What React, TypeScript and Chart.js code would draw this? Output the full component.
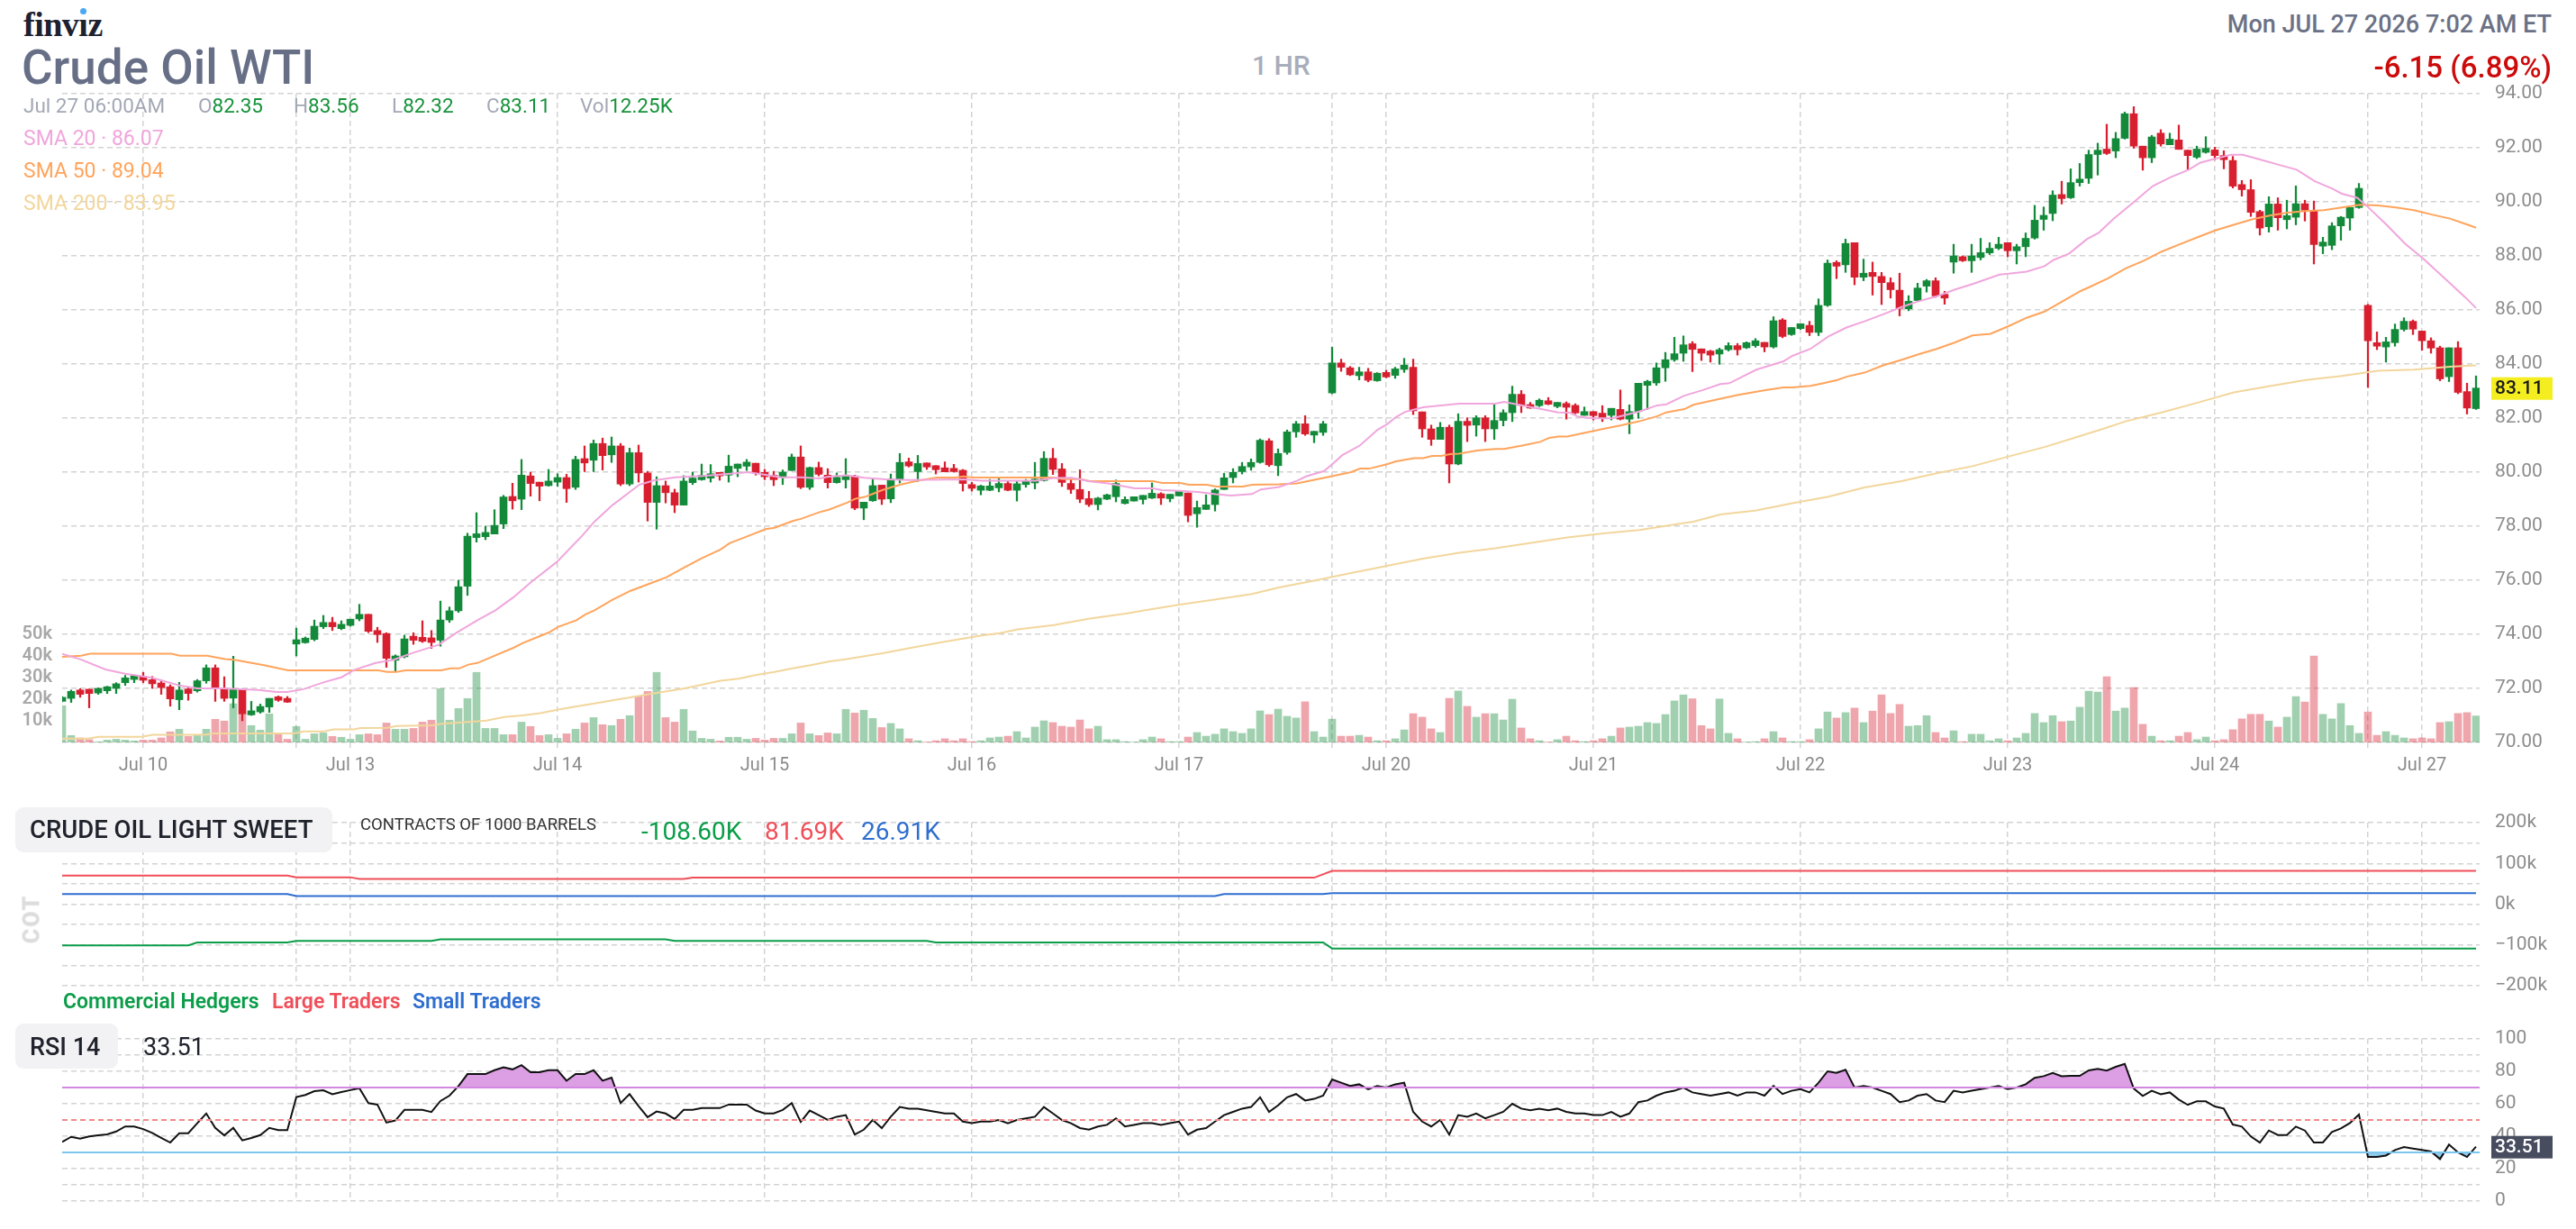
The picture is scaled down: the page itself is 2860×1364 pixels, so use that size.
import { useEffect, useRef } from "react";
import { Chart, registerables } from "chart.js";

Chart.register(...registerables);

const FONT = "Roboto, 'Noto Sans', sans-serif";

// ---- time axis: one slot per hourly bar ----
const X_MAX = 268.4;
const dayTicks = [9, 32, 55, 78, 101, 124, 147, 170, 193, 216, 239, 262];
const dayLabels = ["Jul 10", "Jul 13", "Jul 14", "Jul 15", "Jul 16", "Jul 17", "Jul 20", "Jul 21", "Jul 22", "Jul 23", "Jul 24", "Jul 27"];
const sessionTicks = [26, 141, 256];

// ---- hourly OHLC ----
const openP = [
  71.52, 71.63, 71.94, 71.97, 71.83, 71.91, 72.0, 72.21, 72.33, 72.44,
  72.32, 72.2, 72.06, 71.58, 71.98, 71.91, 72.28, 72.76, 72.0, 71.64,
  71.97, 71.02, 71.13, 71.31, 71.69, 71.63, 73.64, 73.69, 73.81, 74.28,
  74.44, 74.21, 74.33, 74.57, 74.74, 74.14, 74.03, 73.04, 73.17, 73.93,
  73.89, 73.87, 73.78, 74.53, 74.87, 75.78, 77.58, 77.61, 77.71, 78.08,
  79.1, 79.0, 79.86, 79.63, 79.5, 79.63, 79.8, 79.44, 80.5, 80.44,
  81.06, 80.64, 80.97, 79.56, 80.72, 79.97, 78.88, 79.5, 79.24, 78.78,
  79.61, 79.72, 79.78, 79.99, 79.89, 80.14, 80.22, 80.33, 79.99, 79.88,
  79.8, 80.06, 80.56, 79.44, 80.17, 79.89, 79.61, 79.72, 79.86, 78.67,
  78.94, 79.52, 79.01, 79.74, 80.38, 80.02, 80.34, 80.24, 80.16, 80.14,
  80.07, 79.54, 79.33, 79.33, 79.42, 79.58, 79.33, 79.54, 79.6, 79.69,
  80.51, 80.12, 79.58, 79.36, 79.02, 78.8, 79.0, 79.09, 78.84, 78.93,
  78.99, 79.04, 79.2, 79.02, 79.12, 79.23, 78.46, 78.62, 78.8, 79.36,
  79.8, 80.02, 80.19, 80.36, 81.16, 80.24, 80.73, 81.49, 81.79, 81.37,
  81.47, 82.93, 84.04, 83.86, 83.57, 83.71, 83.38, 83.69, 83.58, 83.8,
  83.88, 82.23, 81.6, 81.21, 81.66, 80.3, 81.88, 81.74, 82.01, 81.6,
  81.91, 82.2, 82.88, 82.5, 82.46, 82.64, 82.43, 82.54, 82.47, 82.1,
  82.24, 82.18, 82.1, 82.32, 81.96, 82.24, 83.21, 83.3, 83.86, 84.16,
  84.4, 84.75, 84.56, 84.48, 84.37, 84.53, 84.68, 84.6, 84.68, 84.8,
  84.63, 85.63, 85.09, 85.31, 85.43, 85.17, 86.17, 87.76, 87.67, 88.49,
  87.21, 87.39, 87.24, 87.01, 86.73, 86.04, 86.35, 86.88, 87.08, 86.58,
  87.77, 87.97, 87.82, 87.94, 88.11, 88.28, 88.49, 88.19, 88.34, 88.66,
  89.35, 89.57, 90.27, 90.15, 90.71, 90.87, 91.75, 91.95, 91.88, 92.35,
  93.26, 92.06, 91.63, 92.54, 92.11, 92.29, 91.91, 91.65, 91.83, 91.92,
  91.71, 91.53, 90.64, 90.45, 89.64, 89.08, 89.92, 89.34, 89.43, 89.93,
  89.69, 88.36, 88.39, 89.11, 89.4, 89.79, 86.17, 84.79, 84.63, 84.79,
  85.28, 85.58, 85.22, 84.86, 84.6, 83.53, 84.6, 82.98, 82.35,
];
const highP = [
  71.7, 71.94, 71.99, 71.97, 72.02, 72.08, 72.21, 72.48, 72.5, 72.59,
  72.44, 72.31, 72.13, 72.22, 72.06, 72.33, 72.87, 72.87, 72.43, 73.19,
  71.97, 71.52, 71.42, 71.63, 71.72, 71.7, 74.23, 73.9, 74.53, 74.7,
  74.63, 74.5, 74.56, 75.11, 74.74, 74.26, 74.06, 73.24, 73.97, 74.06,
  74.5, 74.14, 75.23, 75.01, 76.0, 77.74, 78.5, 78.0, 78.61, 79.14,
  79.59, 80.47, 80.0, 79.63, 80.1, 79.94, 79.92, 80.59, 80.97, 81.19,
  81.26, 81.3, 81.06, 80.89, 81.0, 80.03, 79.83, 79.67, 79.37, 79.87,
  80.0, 80.3, 80.28, 79.99, 80.63, 80.3, 80.47, 80.33, 80.1, 80.03,
  80.08, 80.67, 80.97, 80.19, 80.37, 80.13, 79.97, 80.5, 79.89, 78.89,
  79.78, 79.52, 79.93, 80.69, 80.52, 80.62, 80.34, 80.24, 80.38, 80.29,
  80.1, 79.62, 79.52, 79.73, 79.77, 79.69, 79.68, 79.73, 80.36, 80.76,
  80.88, 80.32, 79.79, 80.09, 79.29, 79.07, 79.19, 79.71, 79.09, 79.09,
  79.14, 79.6, 79.24, 79.18, 79.29, 79.23, 78.93, 79.16, 79.38, 79.96,
  80.13, 80.36, 80.49, 81.23, 81.24, 80.86, 81.56, 81.88, 82.09, 81.51,
  81.88, 84.62, 84.18, 83.91, 83.88, 83.84, 83.68, 83.77, 83.88, 84.21,
  84.18, 82.23, 81.74, 81.84, 81.74, 82.16, 82.01, 82.09, 82.09, 82.49,
  82.31, 83.18, 83.02, 82.58, 82.71, 82.76, 82.58, 82.6, 82.53, 82.41,
  82.24, 82.46, 82.36, 83.04, 82.49, 83.29, 83.4, 84.04, 84.43, 84.99,
  85.04, 84.83, 84.56, 84.51, 84.59, 84.79, 84.76, 84.82, 84.94, 84.8,
  85.75, 85.68, 85.35, 85.49, 85.58, 86.41, 87.85, 87.82, 88.62, 88.49,
  87.88, 87.77, 87.39, 87.19, 87.36, 86.53, 86.99, 87.13, 87.19, 86.69,
  88.43, 88.0, 88.43, 88.65, 88.49, 88.69, 88.49, 88.43, 88.85, 89.87,
  89.81, 90.41, 90.76, 91.22, 91.42, 91.91, 92.17, 92.87, 92.57, 93.32,
  93.52, 92.06, 92.46, 92.67, 92.54, 92.84, 91.91, 92.06, 92.41, 92.02,
  91.89, 91.68, 90.79, 90.82, 89.69, 90.19, 90.15, 90.06, 90.59, 90.06,
  90.03, 88.69, 89.23, 89.46, 89.79, 90.68, 86.21, 85.19, 84.99, 85.48,
  85.71, 85.63, 85.22, 84.97, 84.66, 84.6, 84.83, 83.29, 83.56,
];
const lowP = [
  71.5, 71.48, 71.67, 71.28, 71.78, 71.81, 71.81, 72.11, 72.21, 72.21,
  72.0, 71.78, 71.34, 71.21, 71.56, 71.86, 72.19, 71.52, 71.52, 71.28,
  70.8, 71.0, 71.08, 71.11, 71.52, 71.48, 73.2, 73.67, 73.76, 74.21,
  74.14, 74.17, 74.3, 74.5, 74.06, 73.7, 72.78, 72.63, 73.13, 73.63,
  73.7, 73.48, 73.56, 74.44, 74.81, 75.44, 77.41, 77.5, 77.71, 77.91,
  78.63, 78.61, 79.11, 78.94, 79.48, 79.47, 78.88, 79.36, 80.02, 80.02,
  80.08, 80.36, 79.5, 79.5, 79.63, 78.19, 77.89, 78.86, 78.5, 78.78,
  79.54, 79.7, 79.63, 79.7, 79.63, 79.83, 80.06, 79.89, 79.72, 79.5,
  79.54, 80.06, 79.39, 79.36, 79.86, 79.41, 79.59, 79.41, 78.61, 78.24,
  78.92, 78.8, 78.87, 79.6, 80.19, 79.66, 80.1, 79.93, 80.01, 80.0,
  79.3, 79.3, 79.16, 79.31, 79.27, 79.31, 78.93, 79.44, 79.38, 79.67,
  79.91, 79.47, 79.21, 78.87, 78.73, 78.6, 78.98, 78.9, 78.82, 78.93,
  78.82, 79.02, 78.8, 78.9, 79.12, 78.16, 77.96, 78.62, 78.56, 79.36,
  79.6, 79.93, 80.07, 80.33, 80.21, 79.87, 80.66, 81.29, 81.36, 81.09,
  81.36, 82.9, 83.73, 83.57, 83.41, 83.34, 83.36, 83.49, 83.47, 83.69,
  82.13, 81.29, 80.99, 81.21, 79.6, 80.27, 81.13, 81.33, 81.13, 81.21,
  81.71, 81.87, 82.2, 82.36, 82.42, 82.49, 82.38, 81.96, 82.16, 82.1,
  81.93, 81.87, 81.93, 81.93, 81.42, 81.99, 82.32, 83.21, 83.36, 84.1,
  84.1, 83.72, 84.13, 84.07, 83.99, 84.48, 84.33, 84.57, 84.62, 84.45,
  84.59, 84.97, 85.06, 85.28, 85.05, 85.05, 86.13, 87.16, 87.39, 86.93,
  87.08, 86.55, 86.2, 86.44, 85.78, 85.97, 86.32, 86.66, 86.47, 86.21,
  87.36, 87.79, 87.39, 87.85, 88.05, 88.23, 87.97, 87.7, 87.97, 88.62,
  88.95, 89.3, 89.92, 90.12, 90.58, 90.68, 90.99, 91.75, 91.63, 92.32,
  91.98, 91.17, 91.45, 92.06, 92.11, 91.94, 91.19, 91.6, 91.8, 91.56,
  91.22, 90.51, 90.21, 89.46, 88.77, 88.88, 88.95, 89.0, 89.15, 89.29,
  87.7, 88.08, 88.23, 88.58, 88.95, 89.76, 83.13, 84.53, 84.07, 84.66,
  85.22, 85.09, 84.51, 84.4, 83.38, 83.35, 82.9, 82.15, 82.32,
];
const closeP = [
  71.67, 71.89, 71.78, 71.81, 72.0, 72.06, 72.17, 72.39, 72.47, 72.3,
  72.17, 72.03, 71.61, 71.94, 71.81, 72.28, 72.76, 72.0, 71.63, 71.97,
  71.06, 71.17, 71.33, 71.63, 71.56, 71.49, 73.8, 73.86, 74.3, 74.44,
  74.28, 74.37, 74.56, 74.74, 74.11, 73.99, 73.11, 73.2, 73.83, 73.78,
  73.74, 73.7, 74.53, 74.87, 75.76, 77.63, 77.72, 77.77, 78.03, 79.08,
  78.94, 79.89, 79.58, 79.48, 79.67, 79.8, 79.39, 80.47, 80.34, 81.06,
  80.61, 80.97, 79.56, 80.72, 79.97, 78.88, 79.5, 79.24, 78.78, 79.67,
  79.78, 79.88, 79.94, 79.86, 80.22, 80.3, 80.37, 79.97, 79.83, 79.72,
  80.0, 80.56, 79.44, 80.17, 79.92, 79.61, 79.81, 79.87, 78.67, 78.89,
  79.5, 79.0, 79.74, 80.36, 80.23, 80.32, 80.19, 80.09, 80.01, 80.02,
  79.58, 79.4, 79.49, 79.49, 79.58, 79.33, 79.57, 79.69, 79.74, 80.51,
  80.1, 79.62, 79.36, 79.0, 78.8, 79.04, 79.16, 79.58, 78.99, 79.09,
  79.14, 79.22, 79.04, 79.18, 79.29, 78.4, 78.69, 78.79, 79.34, 79.79,
  79.99, 80.21, 80.36, 81.18, 80.27, 80.69, 81.49, 81.79, 81.41, 81.51,
  81.79, 84.04, 83.88, 83.6, 83.71, 83.4, 83.66, 83.52, 83.82, 83.96,
  82.27, 81.6, 81.21, 81.66, 80.3, 81.88, 81.73, 82.01, 81.6, 81.91,
  82.2, 82.88, 82.47, 82.37, 82.66, 82.51, 82.58, 82.4, 82.19, 82.24,
  82.09, 82.02, 82.36, 81.96, 82.24, 83.29, 83.36, 83.86, 84.16, 84.38,
  84.71, 84.54, 84.4, 84.33, 84.53, 84.68, 84.53, 84.79, 84.86, 84.63,
  85.6, 85.02, 85.35, 85.49, 85.17, 86.17, 87.73, 87.62, 88.46, 87.21,
  87.36, 87.24, 87.01, 86.75, 86.06, 86.32, 86.81, 87.08, 86.52, 86.44,
  88.0, 87.82, 88.0, 88.12, 88.28, 88.43, 88.19, 88.34, 88.65, 89.32,
  89.5, 90.25, 90.12, 90.71, 90.84, 91.75, 91.91, 91.79, 92.34, 93.26,
  92.06, 91.63, 92.4, 92.14, 92.32, 91.94, 91.71, 91.95, 91.98, 91.71,
  91.56, 90.58, 90.45, 89.61, 89.03, 89.92, 89.41, 89.49, 89.93, 89.69,
  88.42, 88.51, 89.11, 89.43, 89.79, 90.5, 84.86, 84.66, 84.82, 85.28,
  85.58, 85.29, 84.86, 84.59, 83.45, 84.6, 82.95, 82.37, 83.11,
];
// volume, thousands of contracts
const volumeK = [
  17, 3.2, 2.1, 1.3, 0.3, 1.1, 1.5, 1.1, 0.7, 1.1,
  1.1, 2.1, 4.9, 6.1, 2.8, 3.3, 6.1, 10.7, 9.9, 17.9,
  13.5, 7.8, 5.7, 13.2, 4.2, 1.5, 7.4, 1.5, 4.0, 4.4,
  2.8, 2.4, 1.5, 3.6, 4.0, 3.6, 9.0, 6.1, 6.1, 6.5,
  9.4, 10.3, 24.9, 10.3, 15.7, 20.3, 32.4, 6.5, 6.5, 3.6,
  3.6, 9.4, 7.4, 3.2, 3.6, 1.9, 4.0, 6.1, 9.0, 11.5,
  8.2, 7.8, 10.7, 12.4, 21.5, 23.6, 32.4, 11.5, 9.4, 15.3,
  5.3, 1.9, 1.5, 0.7, 2.4, 2.4, 1.5, 1.9, 1.1, 1.9,
  1.9, 4.0, 9.0, 4.0, 3.2, 4.4, 4.0, 15.3, 13.6, 14.9,
  11.1, 6.9, 8.8, 6.3, 1.7, 0.8, 0.2, 0.8, 1.7, 0.8,
  1.7, 0.4, 0.8, 2.1, 2.5, 2.9, 5.0, 2.1, 7.1, 10.0,
  9.2, 7.5, 7.1, 10.4, 6.3, 7.5, 1.3, 1.3, 0.4, 0.2,
  1.3, 2.5, 1.7, 0.4, 0.4, 2.5, 4.6, 2.9, 3.8, 6.3,
  5.0, 4.2, 6.3, 14.6, 12.9, 15.4, 12.1, 11.3, 18.8, 5.0,
  2.5, 10.8, 2.9, 2.9, 3.3, 2.5, 0.8, 0.8, 1.7, 5.8,
  13.3, 11.7, 6.3, 4.6, 20.4, 23.8, 16.7, 11.7, 13.3, 13.3,
  10.4, 20.0, 6.7, 1.7, 0.8, 0.2, 1.3, 2.9, 0.8, 0.4,
  0.8, 1.7, 2.9, 6.7, 7.1, 7.5, 9.2, 8.8, 12.9, 19.2,
  22.0, 20.2, 7.8, 6.3, 20.1, 4.2, 1.7, 0.2, 0.4, 1.7,
  5.0, 2.1, 0.4, 0.4, 1.3, 6.3, 14.1, 11.3, 13.8, 15.9,
  9.2, 14.5, 22.0, 13.4, 17.6, 7.5, 7.8, 12.4, 4.6, 2.1,
  5.4, 0.4, 3.8, 3.8, 0.8, 1.7, 0.8, 2.1, 4.2, 13.4,
  9.2, 12.4, 9.6, 9.9, 16.3, 23.7, 23.3, 30.4, 14.5, 15.9,
  25.4, 8.4, 2.9, 0.8, 0.8, 2.9, 4.6, 1.3, 2.5, 0.8,
  1.3, 5.9, 10.9, 13.0, 13.0, 9.9, 7.1, 11.7, 21.2, 18.7,
  40.0, 13.0, 10.9, 18.0, 7.8, 4.2, 14.1, 3.3, 5.0, 3.3,
  2.1, 1.7, 2.1, 1.7, 9.2, 9.6, 13.4, 13.8, 12.25,
];

// ---- moving averages: [bar, price] vertices ----
const sma20 = [
  [0, 73.28], [2, 73.08], [4.8, 72.7], [7, 72.54], [10, 72.39], [13, 72.11], [15, 72.0], [17.8, 72.0], [21.8, 71.94], [23.8, 71.87],
  [25, 71.87], [26.8, 71.97], [29, 72.22], [31, 72.41], [32.4, 72.68], [34.8, 72.94], [36.8, 73.06], [39, 73.32], [41.8, 73.61], [43.8, 74.06],
  [46.1, 74.52], [48.1, 74.89], [50.1, 75.37], [52.1, 75.94], [54.9, 76.67], [57.8, 77.67], [59.1, 78.17], [61.1, 78.78], [64.1, 79.54], [65.8, 79.7],
  [68.1, 79.81], [71.1, 79.86], [75.1, 79.97], [76.1, 80.0], [77.8, 79.92], [79.8, 79.81], [82.1, 79.81], [84.1, 79.77], [85.1, 79.83], [87.1, 79.88],
  [89.1, 79.79], [91.4, 79.73], [94.1, 79.71], [100.1, 79.73], [102.1, 79.68], [108.1, 79.68], [110.1, 79.78], [112.1, 79.79], [114.1, 79.66], [116.1, 79.58],
  [119.1, 79.4], [121.1, 79.4], [122.1, 79.33], [124.1, 79.31], [126.1, 79.27], [128.1, 79.18], [129.8, 79.13], [132.1, 79.19], [133.1, 79.36], [135.1, 79.45],
  [137.1, 79.68], [138.1, 79.84], [140.1, 80.04], [141.1, 80.32], [142.1, 80.62], [144.1, 80.99], [146.1, 81.58], [147.1, 81.77], [148.1, 82.04], [149.1, 82.23],
  [151.1, 82.4], [153.1, 82.47], [155.1, 82.53], [159.1, 82.53], [160.1, 82.6], [162.1, 82.47], [164.1, 82.34], [166.1, 82.21], [167.4, 82.2], [168.4, 82.04],
  [170.1, 81.99], [172.1, 81.99], [173.4, 82.1], [175.1, 82.24], [177.1, 82.47], [178.1, 82.51], [180.1, 82.83], [182.1, 83.03], [184.1, 83.26], [185.1, 83.29],
  [188.1, 83.79], [191.1, 84.1], [192.1, 84.3], [194.1, 84.56], [196.1, 85.02], [198.1, 85.35], [200.1, 85.58], [202.1, 85.83], [204.1, 86.09], [206.1, 86.32],
  [208.1, 86.5], [210.1, 86.75], [212.1, 86.96], [215.1, 87.31], [216.1, 87.34], [218.1, 87.42], [220.1, 87.62], [221.1, 87.85], [222.8, 88.08], [224.8, 88.62],
  [226.1, 88.85], [227.8, 89.38], [230.1, 90.02], [232.1, 90.58], [234.1, 90.91], [236.1, 91.19], [237.4, 91.45], [239.1, 91.6], [240.8, 91.74], [242.1, 91.74],
  [244.1, 91.56], [246.1, 91.37], [248.1, 91.19], [250.1, 90.76], [252.1, 90.48], [253.1, 90.3], [254.8, 90.15], [255.8, 89.87], [258.1, 89.14], [260.1, 88.46],
  [262.1, 87.91], [264.8, 87.08], [266.8, 86.47], [268, 86.07],
];
const sma50 = [
  [0, 73.17], [2.1, 73.21], [3.1, 73.28], [12.1, 73.28], [13.1, 73.21], [16.1, 73.21], [18.1, 73.08], [19.1, 73.06], [22.4, 72.86], [25.1, 72.67],
  [35.1, 72.67], [36.1, 72.61], [37.1, 72.61], [38.1, 72.67], [42.1, 72.67], [43.1, 72.74], [44.1, 72.74], [45.1, 72.88], [46.1, 72.94], [48.1, 73.22],
  [50.1, 73.5], [51.1, 73.67], [53.1, 73.94], [54.1, 74.08], [55.1, 74.28], [57.1, 74.52], [58.1, 74.74], [59.1, 74.89], [61.1, 75.28], [63.1, 75.61],
  [65.1, 75.86], [67.1, 76.11], [69.1, 76.48], [71.1, 76.83], [73.1, 77.14], [74.1, 77.37], [76.1, 77.63], [78.1, 77.89], [79.1, 77.94], [81.1, 78.19],
  [82.1, 78.28], [84.1, 78.52], [85.1, 78.61], [87.1, 78.86], [88.1, 79.02], [89.1, 79.08], [90.1, 79.21], [91.1, 79.34], [93.1, 79.54], [95.1, 79.69],
  [97.1, 79.8], [99.1, 79.8], [100.1, 79.84], [101.1, 79.8], [110.1, 79.8], [111.1, 79.74], [113.1, 79.74], [114.1, 79.67], [121.1, 79.67], [122.1, 79.6],
  [124.1, 79.6], [125.1, 79.53], [127.1, 79.53], [128.1, 79.47], [131.1, 79.47], [132.1, 79.53], [135.1, 79.55], [137.1, 79.58], [141.1, 79.86], [143.1, 80.0],
  [144.1, 80.13], [145.1, 80.13], [147.1, 80.29], [148.1, 80.4], [150.1, 80.52], [151.1, 80.52], [152.1, 80.6], [153.1, 80.6], [154.1, 80.67], [155.1, 80.68],
  [157.1, 80.8], [159.1, 80.86], [160.1, 80.86], [162.1, 80.98], [164.1, 81.12], [165.1, 81.27], [166.1, 81.32], [167.1, 81.32], [169.1, 81.46], [171.1, 81.6],
  [173.1, 81.73], [175.1, 81.88], [177.1, 82.07], [178.1, 82.21], [180.1, 82.33], [181.1, 82.49], [183.1, 82.64], [186.1, 82.86], [189.1, 83.03], [191.1, 83.13],
  [192.1, 83.13], [194.1, 83.19], [195.1, 83.26], [197.1, 83.41], [198.1, 83.53], [200.1, 83.68], [202.1, 83.94], [204.1, 84.14], [206.1, 84.36], [208.1, 84.56],
  [210.1, 84.79], [212.1, 85.06], [214.1, 85.12], [216.1, 85.4], [218.1, 85.71], [220.1, 85.94], [222.1, 86.32], [224.1, 86.7], [225.1, 86.85], [227.1, 87.16],
  [229.1, 87.54], [231.1, 87.82], [233.1, 88.16], [235.1, 88.43], [237.1, 88.69], [239.1, 88.95], [241.1, 89.15], [243.1, 89.35], [245.1, 89.49], [247.1, 89.6],
  [249.1, 89.66], [251.1, 89.69], [253.1, 89.79], [255.1, 89.89], [257.1, 89.87], [259.1, 89.79], [261.1, 89.69], [263.1, 89.53], [265.1, 89.38], [267.1, 89.15],
  [268, 89.04],
];
const sma200 = [
  [0, 70.14], [2.8, 70.14], [4.1, 70.21], [8.8, 70.21], [10.1, 70.28], [15.8, 70.28], [16.8, 70.33], [25.8, 70.33], [26.8, 70.41], [29.1, 70.41],
  [30.1, 70.48], [32.4, 70.48], [33.1, 70.53], [36.1, 70.54], [37.1, 70.61], [41.1, 70.63], [42.1, 70.69], [46.1, 70.78], [47.1, 70.81], [49.1, 70.94],
  [51.1, 71.0], [53.1, 71.08], [55.1, 71.22], [57.1, 71.33], [59.1, 71.44], [61.1, 71.56], [63.1, 71.67], [65.1, 71.78], [67.1, 71.89], [69.1, 72.0],
  [71.1, 72.14], [73.1, 72.28], [75.1, 72.36], [77.1, 72.5], [79.1, 72.61], [81.1, 72.74], [83.1, 72.86], [85.1, 72.99], [87.1, 73.08], [89.1, 73.19],
  [91.1, 73.3], [94.1, 73.49], [98.1, 73.73], [102.1, 73.96], [104.1, 74.04], [106.1, 74.18], [110.1, 74.34], [114.1, 74.58], [118.1, 74.77], [120.1, 74.88],
  [124.1, 75.1], [128.1, 75.29], [132.1, 75.49], [135.1, 75.73], [139.1, 75.99], [143.1, 76.27], [147.1, 76.53], [151.1, 76.8], [155.1, 77.02], [159.1, 77.18],
  [163.1, 77.38], [167.1, 77.58], [171.1, 77.73], [175.1, 77.86], [179.1, 78.07], [181.1, 78.17], [184.1, 78.43], [188.1, 78.58], [192.1, 78.85], [196.1, 79.09],
  [200.1, 79.43], [204.1, 79.66], [208.1, 79.96], [212.1, 80.22], [216.1, 80.58], [220.1, 80.93], [224.1, 81.34], [226.1, 81.55], [229.1, 81.88], [233.1, 82.21],
  [237.1, 82.57], [241.1, 82.95], [245.1, 83.18], [249.1, 83.41], [253.1, 83.56], [257.1, 83.75], [261.1, 83.79], [265.1, 83.9], [268, 83.95],
];

// ---- commitments of traders, thousands of contracts ----
const cotCommercial = [[0, -101], [14, -101], [15, -94], [25, -94], [26, -90], [41, -90], [42, -86], [67, -86], [68, -90], [96, -90], [97, -94], [140, -94], [141, -108.6], [268, -108.6]];
const cotLarge = [[0, 70], [25, 70], [26, 66], [32, 66], [33, 62], [69, 62], [70, 65], [139, 65], [141, 81.69], [268, 81.69]];
const cotSmall = [[0, 25], [25, 25], [26, 20], [128, 20], [129, 25], [140, 25], [141, 26.91], [268, 26.91]];

// ---- RSI(14) ----
const rsi14 = [
  36.5, 39.6, 38.5, 39.8, 40.5, 41.1, 42.9, 46.0, 46.0, 44.4,
  42.0, 39.0, 36.1, 41.8, 41.8, 48.0, 54.0, 45.1, 40.5, 45.1,
  37.4, 38.9, 40.7, 45.1, 43.8, 43.8, 64.1, 65.4, 67.8, 68.3,
  65.9, 67.2, 68.4, 69.6, 60.4, 59.5, 48.4, 49.7, 56.2, 56.2,
  56.2, 54.9, 61.7, 65.0, 70.9, 78.3, 78.3, 78.3, 80.7, 82.5,
  81.2, 83.8, 79.4, 79.4, 80.7, 80.7, 74.2, 78.3, 78.3, 80.7,
  74.2, 76.1, 60.4, 65.9, 58.6, 51.7, 55.2, 54.0, 50.6, 56.2,
  56.2, 57.3, 57.3, 57.3, 59.5, 59.5, 59.5, 55.8, 54.0, 54.0,
  56.2, 60.4, 48.8, 55.8, 53, 50, 52, 53, 41, 44,
  50, 45, 52, 58, 57, 57, 56, 55, 54, 54,
  49, 48, 49, 49, 50, 48, 50, 51, 52, 58,
  54, 50, 48, 45, 44, 46, 47, 51, 46, 47,
  48, 48, 47, 48, 49, 41, 44, 45, 49, 53,
  55, 57, 58, 64, 55, 59, 64, 66, 62, 63,
  65, 75, 73, 71, 72, 69, 71, 70, 72, 73,
  55, 49, 46, 50, 41, 53, 52, 54, 51, 53,
  55, 60, 57, 56, 57, 56, 57, 55, 54, 54,
  53, 53, 55, 52, 54, 61, 62, 65, 67, 68,
  70, 67, 66, 65, 66, 67, 65, 67, 67, 65,
  71, 66, 68, 69, 67, 73, 80, 79, 81, 70,
  71, 70, 68, 66, 61, 62, 65, 66, 62, 61,
  68, 67, 68, 69, 70, 71, 69, 70, 72, 76,
  77, 79, 77, 77.2, 77.2, 80.6, 81.5, 80.4, 82.8, 84.6,
  69.4, 64.8, 68.0, 65.9, 67.0, 62.6, 59.3, 61.5, 61.5, 58.3,
  57.0, 47.2, 45.9, 39.8, 36.1, 43.5, 40.7, 40.7, 45.9, 43.5,
  36.1, 36.1, 42.6, 44.8, 48.1, 53.3, 27.2, 27.2, 28.1, 31.5,
  33.3, 32.4, 31.5, 30.6, 25.9, 34.8, 30.0, 27.2, 33.51,
];

// ---- colours ----
const UP = "#138a3a";
const DOWN = "#d81f2f";
const UP_VOL = "rgba(19,138,58,0.4)";
const DOWN_VOL = "rgba(216,31,47,0.4)";
const SMA20_C = "#f0a6dc";
const SMA50_C = "#ffa45c";
const SMA200_C = "#f2d69c";
const GRID = "#d3d3d3";
const DASH = [6, 4];
const AXIS_TXT = "#8c8c8c";
const COT_GREEN = "#0a9d48";
const COT_RED = "#f04e58";
const COT_BLUE = "#2f6ecf";
const RSI_HIGH_LINE = "#d487e0";
const RSI_HIGH_FILL = "#dc9fe3";
const RSI_LOW_LINE = "#7cc6ee";
const RSI_LOW_FILL = "#8fcaec";
const RSI_MID_LINE = "#f2898a";

const gridTicks = [...dayTicks, ...sessionTicks].sort((a, b) => a - b);
const bars = closeP.map((_, i) => i);
const isUp = (i: number) => closeP[i] >= openP[i];
const pts = (arr: number[][], k = 1) => arr.map(([x, y]) => ({ x, y: y * k }));

// keep tick labels from enlarging the plot margins
const noLabelPadding = (s: any) => {
  s.paddingTop = 0;
  s.paddingBottom = 0;
  s.paddingLeft = 0;
  s.paddingRight = 0;
};

// the price panel's day lines run a little past the plot's lower edge
function timeAxis(showLabels: boolean): any {
  return {
    type: "linear",
    min: 0,
    max: X_MAX,
    offset: false,
    afterBuildTicks: (s: any) => {
      s.ticks = gridTicks.map((v) => ({ value: v }));
    },
    grid: {
      color: GRID,
      lineWidth: 1.5,
      offset: false,
      drawTicks: showLabels,
      tickLength: 10,
      tickColor: GRID,
      tickWidth: 1.5,
      tickBorderDash: [6, 4],
    },
    border: { display: false, dash: DASH },
    ticks: {
      display: showLabels,
      autoSkip: false,
      maxRotation: 0,
      padding: 4,
      color: "#8a8a8a",
      font: { family: FONT, size: 20 },
      callback: (v: number) => {
        const k = dayTicks.indexOf(v);
        return k >= 0 ? dayLabels[k] : "";
      },
    },
    afterFit: (s: any) => {
      s.height = showLabels ? 46 : 0;
      noLabelPadding(s);
    },
  };
}

function valueAxisRight(extra: any): any {
  return {
    type: "linear",
    position: "right",
    grid: { color: GRID, lineWidth: 1.5, drawTicks: false },
    border: { display: false, dash: DASH },
    afterFit: (s: any) => {
      s.width = 99;
      noLabelPadding(s);
    },
    ...extra,
    ticks: { padding: 17, color: AXIS_TXT, font: { family: FONT, size: 21 }, autoSkip: false, ...extra.ticks },
  };
}

function tagPlugin(id: string, axis: string, value: number, bg: string, fg: string): any {
  return {
    id,
    afterDraw(chart: any) {
      const y = chart.scales[axis].getPixelForValue(value);
      const x = chart.chartArea.right + 13;
      const ctx = chart.ctx;
      ctx.save();
      ctx.fillStyle = bg;
      ctx.fillRect(x, y - 12, 68, 25);
      ctx.fillStyle = fg;
      ctx.font = `500 21px ${FONT}`;
      ctx.textBaseline = "middle";
      ctx.textAlign = "left";
      ctx.fillText(value.toFixed(2), x + 4, y + 1);
      ctx.restore();
    },
  };
}

function priceConfig(): any {
  const candleColors = bars.map((i) => (isUp(i) ? UP : DOWN));
  return {
    type: "bar",
    data: {
      datasets: [
        { type: "line", label: "SMA 20", data: pts(sma20), borderColor: SMA20_C, borderWidth: 2, pointRadius: 0, yAxisID: "y", order: 0 },
        { type: "line", label: "SMA 50", data: pts(sma50), borderColor: SMA50_C, borderWidth: 2, pointRadius: 0, yAxisID: "y", order: 0 },
        { type: "line", label: "SMA 200", data: pts(sma200), borderColor: SMA200_C, borderWidth: 2, pointRadius: 0, yAxisID: "y", order: 0 },
        {
          type: "bar", label: "body", grouped: false, yAxisID: "y", order: 1,
          data: bars.map((i) => ({ x: i, y: [openP[i], closeP[i]] })),
          backgroundColor: candleColors, barThickness: 8, minBarLength: 2, borderWidth: 0,
        },
        {
          type: "bar", label: "wick", grouped: false, yAxisID: "y", order: 2,
          data: bars.map((i) => ({ x: i, y: [lowP[i], highP[i]] })),
          backgroundColor: candleColors, barThickness: 1.6, borderWidth: 0,
        },
        {
          type: "bar", label: "volume", grouped: false, yAxisID: "yv", order: 3,
          data: bars.map((i) => ({ x: i, y: volumeK[i] * 1000 })),
          backgroundColor: bars.map((i) => (isUp(i) ? UP_VOL : DOWN_VOL)), barThickness: 8, borderWidth: 0,
        },
      ],
    },
    options: {
      responsive: false,
      animation: false,
      events: [],
      layout: { padding: { top: 14, left: 0, right: 0, bottom: 0 } },
      plugins: { legend: { display: false }, tooltip: { enabled: false } },
      scales: {
        x: timeAxis(true),
        y: valueAxisRight({ min: 70, max: 94, ticks: { stepSize: 2, callback: (v: number) => v.toFixed(2) } }),
        yv: {
          type: "linear",
          position: "left",
          min: 0,
          max: 300000,
          afterBuildTicks: (s: any) => {
            s.ticks = [10000, 20000, 30000, 40000, 50000].map((v) => ({ value: v }));
          },
          grid: { display: false },
          border: { display: false },
          ticks: { padding: 3, color: "#a8a8a8", font: { family: FONT, size: 20, weight: "600" }, callback: (v: number) => `${v / 1000}k` },
          afterFit: (s: any) => {
            s.width = 61;
            noLabelPadding(s);
          },
        },
      },
    },
    plugins: [tagPlugin("lastPrice", "y", closeP[closeP.length - 1], "#f4ee21", "#1a1a1a")],
  };
}

function cotConfig(): any {
  const line = (data: number[][], color: string) => ({
    data: pts(data, 1000), borderColor: color, borderWidth: 2, pointRadius: 0, tension: 0,
  });
  return {
    type: "line",
    data: { datasets: [line(cotLarge, COT_RED), line(cotSmall, COT_BLUE), line(cotCommercial, COT_GREEN)] },
    options: {
      responsive: false,
      animation: false,
      events: [],
      layout: { padding: { top: 20, bottom: 20, left: 61, right: 0 } },
      plugins: { legend: { display: false }, tooltip: { enabled: false } },
      scales: {
        x: timeAxis(false),
        y: valueAxisRight({
          min: -200000,
          max: 200000,
          ticks: {
            stepSize: 50000,
            callback: (v: number) => (v % 100000 === 0 ? `${v < 0 ? "\u2212" : ""}${Math.abs(v / 1000)}k` : ""),
          },
        }),
      },
    },
  };
}

function rsiConfig(): any {
  const rsiPts = bars.map((i) => ({ x: i, y: rsi14[i] }));
  const level = (v: number, color: string, dash: number[] = []) => ({
    data: [{ x: 0, y: v }, { x: X_MAX, y: v }], borderColor: color, backgroundColor: color, borderWidth: 2, borderDash: dash, pointRadius: 0, fill: false, order: -1,
  });
  const band = (v: number, above: string, below: string, order: number) => ({
    data: rsiPts.map((p) => ({ ...p })), borderColor: "rgba(0,0,0,0)", backgroundColor: "rgba(0,0,0,0)", borderWidth: 1, pointRadius: 0, order,
    fill: { target: { value: v }, above, below },
  });
  return {
    type: "line",
    data: {
      datasets: [
        band(70, RSI_HIGH_FILL, "rgba(0,0,0,0)", 4),
        band(30, "rgba(0,0,0,0)", RSI_LOW_FILL, 3),
        { data: rsiPts, borderColor: "#111111", backgroundColor: "#111111", borderWidth: 2, pointRadius: 0, fill: false, order: 0, tension: 0 },
        level(50, RSI_MID_LINE, DASH),
        level(70, RSI_HIGH_LINE),
        level(30, RSI_LOW_LINE),
      ],
    },
    options: {
      responsive: false,
      animation: false,
      events: [],
      layout: { padding: { top: 20, bottom: 20, left: 61, right: 0 } },
      plugins: { legend: { display: false }, tooltip: { enabled: false } },
      scales: {
        x: timeAxis(false),
        y: valueAxisRight({
          min: 0,
          max: 100,
          grid: {
            drawTicks: false,
            lineWidth: 1.5,
            color: (c: any) => ([30, 50, 70].includes(c.tick && c.tick.value) ? "rgba(0,0,0,0)" : GRID),
          },
          ticks: { stepSize: 10, callback: (v: number) => (v % 20 === 0 ? String(v) : "") },
        }),
      },
    },
    plugins: [tagPlugin("lastRsi", "y", rsi14[rsi14.length - 1], "#474d5f", "#ffffff")],
  };
}

// text placed in page coordinates (the root sits inside the 8px body margin)
function Txt(props: any) {
  const { x, y, size, color, weight = 400, right, children, style } = props;
  const s: any = {
    position: "absolute",
    top: y - 8 - size / 2,
    fontSize: size,
    lineHeight: `${size}px`,
    color,
    fontWeight: weight,
    whiteSpace: "nowrap",
    ...style,
  };
  if (right !== undefined) s.right = 2852 - right;
  else s.left = x - 8;
  return <div style={s}>{children}</div>;
}

const GRAY_TXT = "#a3a8b6";
const VAL_GREEN = "#16923a";

export default function App() {
  const priceRef = useRef<HTMLCanvasElement>(null);
  const cotRef = useRef<HTMLCanvasElement>(null);
  const rsiRef = useRef<HTMLCanvasElement>(null);

  useEffect(() => {
    const charts = [
      new Chart(priceRef.current as any, priceConfig()),
      new Chart(cotRef.current as any, cotConfig()),
      new Chart(rsiRef.current as any, rsiConfig()),
    ];
    return () => charts.forEach((c) => c.destroy());
  }, []);

  const canvasStyle = (top: number): any => ({ position: "absolute", left: 0, top });

  return (
    <div style={{ position: "relative", width: 2844, height: 1348, fontFamily: FONT, overflow: "hidden", background: "#fff" }}>
      <canvas ref={priceRef} width={2844} height={780} style={canvasStyle(82)} />
      <canvas ref={cotRef} width={2844} height={221} style={canvasStyle(885)} />
      <canvas ref={rsiRef} width={2844} height={220} style={canvasStyle(1125)} />

      {/* header */}
      <div style={{ position: "absolute", left: 18, top: 0, fontFamily: "'Liberation Serif', 'DejaVu Serif', serif", fontWeight: 700, fontSize: 38, lineHeight: "38px", color: "#1d2130", letterSpacing: -0.5 }}>
        finv
        <span style={{ position: "relative" }}>
          {"\u0131"}
          <span style={{ position: "absolute", left: "50%", top: 3, width: 7, height: 7, marginLeft: -3.5, borderRadius: "50%", background: "#4aa8f5" }} />
        </span>
        z
      </div>
      <Txt x={24} y={75} size={53} weight={500} color="#676f87">Crude Oil WTI</Txt>
      <Txt x={1390} y={73} size={30} weight={500} color="#a8adbb">1 HR</Txt>
      <Txt right={2833} y={27} size={27} weight={500} color="#6b7186">Mon JUL 27 2026 7:02 AM ET</Txt>
      <Txt right={2833} y={74} size={33} weight={500} color="#cc0a0a">-6.15 (6.89%)</Txt>

      <Txt x={26} y={117} size={22.5} color={GRAY_TXT}>Jul 27 06:00AM</Txt>
      <Txt x={220} y={117} size={22.5} color={GRAY_TXT}>O<span style={{ color: VAL_GREEN }}>82.35</span></Txt>
      <Txt x={326} y={117} size={22.5} color={GRAY_TXT}>H<span style={{ color: VAL_GREEN }}>83.56</span></Txt>
      <Txt x={435} y={117} size={22.5} color={GRAY_TXT}>L<span style={{ color: VAL_GREEN }}>82.32</span></Txt>
      <Txt x={540} y={117} size={22.5} color={GRAY_TXT}>C<span style={{ color: VAL_GREEN }}>83.11</span></Txt>
      <Txt x={644} y={117} size={22.5} color={GRAY_TXT}>Vol<span style={{ color: VAL_GREEN }}>12.25K</span></Txt>

      <Txt x={26} y={153} size={23} color={SMA20_C}>SMA 20 · 86.07</Txt>
      <Txt x={26} y={189} size={23} color={SMA50_C}>SMA 50 · 89.04</Txt>
      <Txt x={26} y={225} size={23} color={SMA200_C}>SMA 200 · 83.95</Txt>

      {/* COT panel */}
      <div style={{ position: "absolute", left: 9, top: 888, width: 352, height: 50, borderRadius: 9, background: "#f2f2f4" }} />
      <Txt x={33} y={921} size={27.5} weight={500} color="#20232c">CRUDE OIL LIGHT SWEET</Txt>
      <Txt x={400} y={915} size={18.5} color="#333333">CONTRACTS OF 1000 BARRELS</Txt>
      <Txt x={712} y={923} size={28} color={COT_GREEN}>-108.60K</Txt>
      <Txt x={849} y={923} size={28} color={COT_RED}>81.69K</Txt>
      <Txt x={956} y={923} size={28} color={COT_BLUE}>26.91K</Txt>
      <div style={{ position: "absolute", left: 27, top: 1012, transform: "translate(-50%, -50%) rotate(-90deg)", fontSize: 25, fontWeight: 900, color: "#dcdcdc", letterSpacing: 2, lineHeight: "25px" }}>COT</div>
      <Txt x={70} y={1111} size={23} weight={600} color={COT_GREEN}>Commercial Hedgers</Txt>
      <Txt x={302} y={1111} size={23} weight={600} color={COT_RED}>Large Traders</Txt>
      <Txt x={458} y={1111} size={23} weight={600} color={COT_BLUE}>Small Traders</Txt>

      {/* RSI panel */}
      <div style={{ position: "absolute", left: 9, top: 1128, width: 114, height: 50, borderRadius: 9, background: "#f2f2f4" }} />
      <Txt x={33} y={1162} size={27} weight={500} color="#20232c">RSI 14</Txt>
      <Txt x={159} y={1162} size={27} color="#20232c">33.51</Txt>
    </div>
  );
}
